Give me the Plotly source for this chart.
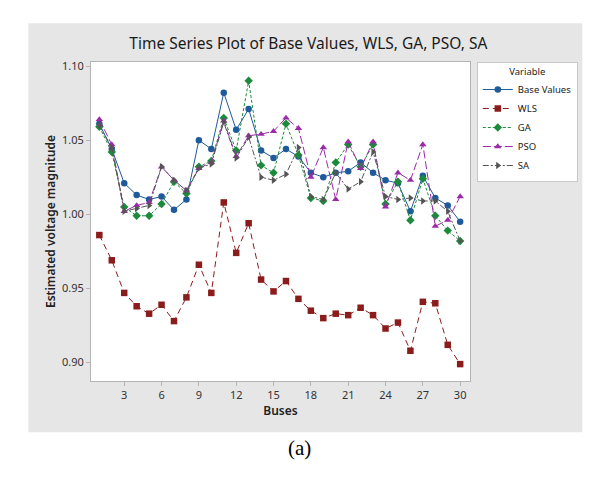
import plotly.graph_objects as go

# ---- Données
buses = list(range(1, 31))

base_values = [1.061, 1.044, 1.021, 1.013, 1.010, 1.012, 1.003, 1.010, 1.050, 1.044,
               1.082, 1.057, 1.071, 1.043, 1.038, 1.044, 1.039, 1.028, 1.025, 1.028,
               1.029, 1.035, 1.028, 1.023, 1.021, 1.002, 1.026, 1.011, 1.006, 0.995]
wls = [0.986, 0.969, 0.947, 0.938, 0.933, 0.939, 0.928, 0.944, 0.966, 0.947,
       1.008, 0.974, 0.994, 0.956, 0.948, 0.955, 0.943, 0.935, 0.930, 0.933,
       0.932, 0.937, 0.932, 0.923, 0.927, 0.908, 0.941, 0.940, 0.912, 0.899]
ga = [1.059, 1.042, 1.005, 0.999, 0.999, 1.007, 1.022, 1.014, 1.032, 1.036,
      1.065, 1.043, 1.090, 1.033, 1.028, 1.061, 1.040, 1.011, 1.009, 1.035,
      1.047, 1.032, 1.047, 1.007, 1.022, 0.996, 1.024, 0.999, 0.989, 0.982]
pso = [1.064, 1.047, 1.002, 1.006, 1.008, 1.032, 1.023, 1.016, 1.031, 1.035,
       1.063, 1.039, 1.053, 1.054, 1.056, 1.065, 1.058, 1.025, 1.045, 1.010,
       1.049, 1.031, 1.049, 1.005, 1.028, 1.023, 1.047, 0.992, 0.996, 1.012]
sa = [1.060, 1.045, 1.002, 1.004, 1.006, 1.032, 1.023, 1.016, 1.031, 1.034,
      1.062, 1.038, 1.052, 1.025, 1.023, 1.027, 1.045, 1.012, 1.010, 1.028,
      1.017, 1.022, 1.042, 1.012, 1.010, 1.011, 1.009, 1.009, 1.002, 0.982]

x_ticks = [3, 6, 9, 12, 15, 18, 21, 24, 27, 30]
y_ticks = [0.90, 0.95, 1.00, 1.05, 1.10]

font_ui = "Noto Sans"

# ---- Séries (nom, valeurs, couleur, tirets, symbole)
series = [
    ("Base Values", base_values, "#1f5a9a", "solid", "circle"),
    ("WLS", wls, "#8b1c1c", "6px,4px", "square"),
    ("GA", ga, "#1c8a3c", "3px,2px", "diamond"),
    ("PSO", pso, "#9a2aa8", "8px,3px", "triangle-up"),
    ("SA", sa, "#555555", "6px,2px,2px,2px", "triangle-right"),
]

fig = go.Figure()
for name, values, color, dash, symbol in series:
    fig.add_trace(go.Scatter(
        x=buses, y=values, name=name, mode='lines+markers',
        line=dict(color=color, width=1, dash=dash),
        marker=dict(symbol=symbol, size=6.5, color=color)))

# Fond gris de la zone du graphique (style Minitab)
fig.add_shape(type='rect', xref='paper', yref='paper',
              x0=-0.1654, x1=1.2963, y0=-0.1608, y1=1.1213,
              fillcolor='#e6e6e6', line=dict(width=0), layer='below')
fig.add_shape(type='rect', xref='x domain', yref='y domain',
              x0=0, x1=1, y0=0, y1=1,
              fillcolor='white', line=dict(width=0), layer='below')

fig.add_annotation(text="(a)", xref='paper', yref='paper', x=0.55, y=-0.21,
                   yanchor='middle', showarrow=False,
                   font=dict(family="Liberation Serif", size=21, color='black'))

fig.update_layout(
    width=601, height=492,
    margin=dict(l=91, r=131, t=62, b=111),
    paper_bgcolor='white', plot_bgcolor='white',
    title=dict(text="Time Series Plot of Base Values, WLS, GA, PSO, SA",
               x=0.513, xanchor='center', y=0.912, yanchor='middle',
               font=dict(family=font_ui, size=15.5, color='#1a1a1a')),
    font=dict(family=font_ui, color='#333333'),
    legend=dict(x=1.018, y=1.001, xanchor='left', yanchor='top',
                bgcolor='white', bordercolor='#c8c8c8', borderwidth=1,
                font=dict(size=9.5, color='#222222'),
                title=dict(text="Variable", side='top center', font=dict(size=9.5)),
                itemwidth=30, tracegroupgap=0),
    xaxis=dict(range=[0.33, 30.79], tickvals=x_ticks, showgrid=False, zeroline=False,
               showline=True, linecolor='#b4b4b4', mirror=True,
               ticks='outside', ticklen=4, tickcolor='#b4b4b4',
               tickfont=dict(size=11),
               title=dict(text="Buses", standoff=4,
                          font=dict(size=12, weight=600, color='#222222'))),
    yaxis=dict(range=[0.8876, 1.1027], tickvals=y_ticks, tickformat='.2f',
               showgrid=False, zeroline=False,
               showline=True, linecolor='#b4b4b4', mirror=True,
               ticks='outside', ticklen=4, tickcolor='#b4b4b4',
               tickfont=dict(size=11),
               title=dict(text="Estimated voltage magnitude", standoff=3,
                          font=dict(size=12, weight=600, color='#222222'))),
)

# la page a une marge de 8px par défaut : on la supprime
fig.write_html("out.html", config={'displayModeBar': False},
               post_script="document.body.style.margin='0';")
